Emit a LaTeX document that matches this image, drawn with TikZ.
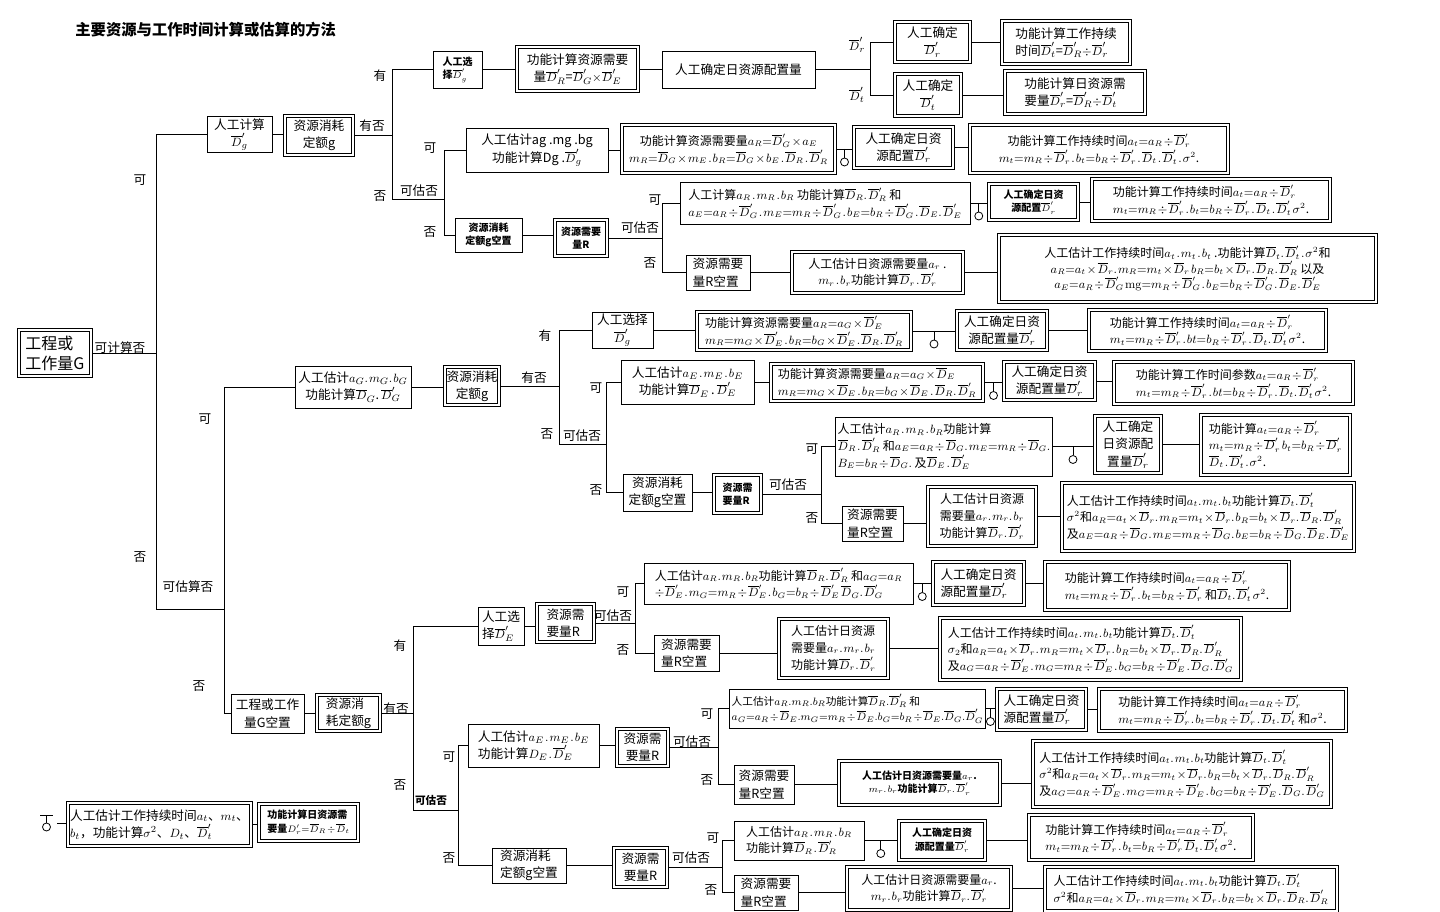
\documentclass[tikz,border=0pt]{standalone}
\usepackage{fontspec}
\newfontfamily\cjk{Noto Sans CJK SC}
\newcommand{\Db}[1]{\ensuremath{\overline{D}_{#1}}}
\newcommand{\Dp}[1]{\ensuremath{\overline{D}_{#1}'}}
\thinmuskip=1.5mu
\medmuskip=1.5mu
\thickmuskip=2mu

\begin{document}
\begin{tikzpicture}[x=0.75pt,y=-0.75pt,line width=0.6pt,
  box/.style={draw,inner sep=1.5pt,align=center,font=\cjk\fontsize{9.5}{13}\selectfont},
  dbox/.style={box,double,double distance=1.6pt,outer sep=1.4pt},
  fml/.style={font=\cjk\fontsize{9}{12.5}\selectfont},
  bsm/.style={font=\cjk\bfseries\fontsize{7.5}{10}\selectfont},
  lab/.style={inner sep=0pt,font=\cjk\fontsize{9.5}{11}\selectfont},
  sz/.style 2 args={minimum width=#1*0.75pt,minimum height=#2*0.75pt},
  lolli/.pic={\draw (0,0) -- (0,9); \draw (0,13) circle[radius=3pt];}]
  \useasboundingbox (0,0) rectangle (1440,912);

  \node[anchor=west,inner sep=0pt,font=\cjk\bfseries\fontsize{11.5}{13}\selectfont] (title) at (75,30) {主要资源与工作时间计算或估算的方法};

  % root and the two trunks
  \node[dbox,sz={72}{46},align=left,font=\cjk\fontsize{12}{15}\selectfont] (root) at (55,353) {工程或\\工作量G};
  \coordinate (j1) at (156,0);
  \coordinate (t2) at (224,609);

  % can be calculated
  \node[box,sz={65}{35}] (calc) at (239.5,134.5) {人工计算\\\Dp{g}};
  \node[dbox,sz={68}{39}] (quota1) at (319,135.5) {资源消耗\\定额g};
  \coordinate (j2) at (392,0);
  \coordinate (k2) at (444,199);
  \node[box,bsm,sz={49}{37},align=left] (sel1) at (457.5,69.5) {人工选\\择\Dp{g}};
  \node[dbox,sz={121}{44}] (need1) at (577.5,69) {功能计算资源需要\\量\Dp{R}=\Dp{G}$\times$\Dp{E}};
  \node[box,sz={153}{37}] (cfg1) at (738.5,69.5) {人工确定日资源配置量};
  \coordinate (j3) at (870,0);
  \node[dbox,sz={75}{40}] (detr) at (932.5,42) {人工确定\\\Dp{r}};
  \node[dbox,sz={128}{43},align=left] (dur1) at (1066,42.5) {功能计算工作持续\\时间\Dp{t}=\Dp{R}$\div$\Dp{r}};
  \node[dbox,sz={66}{42}] (dett) at (928,95) {人工确定\\\Dp{t}};
  \node[dbox,sz={140}{43},align=left] (day1) at (1075,92.5) {功能计算日资源需\\要量\Dp{r}=\Dp{R}$\div$\Dp{t}};

  \node[box,sz={142}{44}] (est1) at (537,150) {人工估计ag .mg .bg\\功能计算Dg .\Dp{g}};
  \node[dbox,fml,sz={213}{48}] (need2) at (728.5,149) {功能计算资源需要量$a_R{=}\overline{D}_G'\times a_E$\\$m_R{=}\overline{D}_G\times m_E\,.\,b_R{=}\overline{D}_G\times b_E\,.\,\overline{D}_R\,.\,\overline{D}_R'$};
  \node[dbox,sz={99}{41}] (cfg2) at (903.5,147.5) {人工确定日资\\源配置\Dp{r}};
  \node[dbox,fml,sz={258}{48}] (dur2) at (1099,149) {功能计算工作持续时间$a_t{=}a_R\div\overline{D}_r'$\\$m_t{=}m_R\div\overline{D}_r'\,.\,b_t{=}b_R\div\overline{D}_r'\,.\,\overline{D}_t\,.\,\overline{D}_t'\,.\,\sigma^2$.};

  \node[box,bsm,sz={67}{34}] (quota1e) at (488.5,235) {资源消耗\\定额g空置};
  \node[dbox,bsm,sz={52}{36}] (need3) at (581,238) {资源需要\\量R};
  \coordinate (j5) at (662,0);
  \node[box,fml,sz={290}{42},align=left] (calc3) at (825,203) {人工计算$a_R\,.\,m_R\,.\,b_R$ 功能计算$\overline{D}_R.\,\overline{D}_R'$ 和\\$a_E{=}a_R\div\overline{D}_G'\,.\,m_E{=}m_R\div\overline{D}_G'\,.\,b_E{=}b_R\div\overline{D}_G'\,.\,\overline{D}_E.\,\overline{D}_E'$};
  \node[dbox,bsm,sz={89}{36}] (cfg3) at (1033.5,202) {人工确定日资\\源配置\Dp{r}};
  \node[dbox,fml,sz={238}{42},align=left] (dur3) at (1211,200) {功能计算工作持续时间$a_t{=}a_R\div\overline{D}_r'$\\$m_t{=}m_R\div\overline{D}_r'\,.\,b_t{=}b_R\div\overline{D}_r'\,.\,\overline{D}_t\,.\,\overline{D}_t'\;\sigma^2$.};
  \node[box,sz={64}{35},align=left] (nr3) at (718,272.5) {资源需要\\量R空置};
  \node[dbox,fml,sz={171}{41}] (day3) at (877.5,272.5) {人工估计日资源需要量$a_r$ .\\$m_r\,.\,b_r$功能计算$\overline{D}_r\,.\,\overline{D}_r'$};
  \node[dbox,sz={377}{67},font=\cjk\fontsize{9}{10.5}\selectfont] (est3) at (1187.5,268.5) {人工估计工作持续时间$a_t\,.\,m_t\,.\,b_t$ .功能计算$\overline{D}_t.\,\overline{D}_t'\,.\,\sigma^2$和\\$a_R{=}a_t\times\overline{D}_r.\,m_R{=}m_t\times\overline{D}_r\;b_R{=}b_t\times\overline{D}_r.\,\overline{D}_R.\,\overline{D}_R'$ 以及\\$a_E{=}a_R\div\overline{D}_G'\;\mathrm{mg}{=}m_R\div\overline{D}_G'\,.\,b_E{=}b_R\div\overline{D}_G'\,.\,\overline{D}_E.\,\overline{D}_E'$};

  % can be estimated
  \node[box,sz={116}{42}] (est4) at (353,387) {人工估计$a_G.\,m_G.\,b_G$\\功能计算\Db{G}.\,\Dp{G}};
  \node[dbox,sz={50}{38}] (quota2) at (472,386) {资源消耗\\定额g};
  \coordinate (j6) at (559,0);
  \coordinate (k6) at (606,444);
  \node[box,sz={61}{36}] (sel2) at (622.5,330) {人工选择\\\Dp{g}};
  \node[dbox,fml,sz={214}{38},align=left] (need5) at (804,331) {功能计算资源需要量$a_R{=}a_G\times\overline{D}_E'$\\$m_R{=}m_G\times\overline{D}_E'\,.\,b_R{=}b_G\times\overline{D}_E'\,.\,\overline{D}_R.\,\overline{D}_R'$};
  \node[dbox,sz={90}{39}] (cfg5) at (1002,330.5) {人工确定日资\\源配置量\Dp{r}};
  \node[dbox,fml,sz={237}{41},align=left] (dur5) at (1207.5,330.5) {功能计算工作持续时间$a_t{=}a_R\div\overline{D}_r'$\\$m_t{=}m_R\div\overline{D}_r'\,.\,bt{=}b_R\div\overline{D}_r'\,.\,\overline{D}_t.\,\overline{D}_t'\;\sigma^2$.};

  \node[box,sz={133}{44}] (est6) at (687.5,382) {人工估计$a_E\,.\,m_E\,.\,b_E$\\功能计算\Db{E}\,.\,\Dp{E}};
  \node[dbox,fml,sz={212}{37},align=left] (need6) at (877,382.5) {功能计算资源需要量$a_R{=}a_G\times\overline{D}_E$\\$m_R{=}m_G\times\overline{D}_E\;.\,b_R{=}b_G\times\overline{D}_E\;.\,\overline{D}_R.\,\overline{D}_R'$};
  \node[dbox,sz={91}{38}] (cfg6) at (1049.5,381) {人工确定日资\\源配置量\Dp{r}};
  \node[dbox,fml,sz={239}{42},align=left] (dur6) at (1233.5,383) {功能计算工作时间参数$a_t{=}a_R\div\overline{D}_r'$\\$m_t{=}m_R\div\overline{D}_r'\,.\,bt{=}b_R\div\overline{D}_r'\,.\,\overline{D}_t.\,\overline{D}_t'\;\sigma^2$.};

  \node[box,sz={69}{37}] (quota6e) at (657.5,492.5) {资源消耗\\定额g空置};
  \node[dbox,bsm,sz={47}{38},align=left] (need7) at (737.5,494) {资源需\\要量R};
  \coordinate (j8) at (821,0);
  \node[box,fml,sz={206}{59},align=left] (calc7) at (944,446.5) {人工估计$a_R\,.\,m_R\,.\,b_R$功能计算\\$\overline{D}_R\,.\,\overline{D}_R'$ 和$a_E{=}a_R\div\overline{D}_G.\,m_E{=}m_R\div\overline{D}_G.$\\$B_E{=}b_R\div\overline{D}_G.$ 及$\overline{D}_E\,.\,\overline{D}_E'$};
  \node[dbox,sz={66}{57}] (cfg7) at (1128,444.5) {人工确定\\日资源配\\置量\Dp{r}};
  \node[dbox,fml,sz={149}{60},align=left] (dur7) at (1275.5,445) {功能计算$a_t{=}a_R\div\overline{D}_r'$\\$m_t{=}m_R\div\overline{D}_r'\;b_t{=}b_R\div\overline{D}_r'$\\$\overline{D}_t\,.\,\overline{D}_t'\,.\,\sigma^2$.};
  \node[box,sz={61}{35},align=left] (nr7) at (872.5,523.5) {资源需要\\量R空置};
  \node[dbox,fml,sz={108}{59}] (day7) at (982,516.5) {人工估计日资源\\需要量$a_r.\,m_r.\,b_r$\\功能计算$\overline{D}_r.\,\overline{D}_r'$};
  \node[dbox,fml,sz={292}{68},align=left] (est7) at (1208,517) {人工估计工作持续时间$a_t.\,m_t.\,b_t$功能计算$\overline{D}_t.\,\overline{D}_t'$\\$\sigma^2$和$a_R{=}a_t\times\overline{D}_r.\,m_R{=}m_t\times\overline{D}_r.\,b_R{=}b_t\times\overline{D}_r.\,\overline{D}_R.\,\overline{D}_R'$\\及$a_E{=}a_R\div\overline{D}_G.\,m_E{=}m_R\div\overline{D}_G.\,b_E{=}b_R\div\overline{D}_G.\,\overline{D}_E.\,\overline{D}_E'$};

  % G left empty
  \node[box,sz={73}{39}] (none) at (267.5,713.5) {工程或工作\\量G空置};
  \node[dbox,sz={63}{36},align=left] (quota3) at (348.5,713) {资源消\\耗定额g};
  \coordinate (j9) at (413,0);
  \coordinate (k9) at (458,810);
  \node[box,sz={46}{38},align=left] (sel3) at (501,626) {人工选\\择\Dp{E}};
  \node[dbox,sz={57}{38},align=left] (need8) at (565.5,623) {资源需\\要量R};
  \coordinate (j10) at (635,0);
  \node[box,fml,sz={269}{41},align=left] (calc8) at (778.5,583.5) {人工估计$a_R.\,m_R.\,b_R$功能计算$\overline{D}_R.\,\overline{D}_R'$ 和$a_G{=}a_R$\\$\div\overline{D}_E'\,.\,m_G{=}m_R\div\overline{D}_E'\,.\,b_G{=}b_R\div\overline{D}_E'\;\overline{D}_G.\,\overline{D}_G'$};
  \node[dbox,sz={91}{43},align=left] (cfg8) at (978.5,583.5) {人工确定日资\\源配置量\Dp{r}};
  \node[dbox,fml,sz={244}{48},align=left] (dur8) at (1167,586) {功能计算工作持续时间$a_t{=}a_R\div\overline{D}_r'$\\$m_t{=}m_R\div\overline{D}_r'\,.\,b_t{=}b_R\div\overline{D}_r'$ 和$\overline{D}_t.\,\overline{D}_t'\;\sigma^2$.};
  \node[box,sz={65}{36},align=left] (nr8) at (686.5,653) {资源需要\\量R空置};
  \node[dbox,fml,sz={109}{59},align=left] (day8) at (833.5,648.5) {人工估计日资源\\需要量$a_r.\,m_r.\,b_r$\\功能计算$\overline{D}_r.\,\overline{D}_r'$};
  \node[dbox,fml,sz={301}{62},align=left] (est8) at (1090.5,649) {人工估计工作持续时间$a_t.\,m_t.\,b_t$功能计算$\overline{D}_t.\,\overline{D}_t'$\\$\sigma_2$和$a_R{=}a_t\times\overline{D}_r.\,m_R{=}m_t\times\overline{D}_r.\,b_R{=}b_t\times\overline{D}_r.\,\overline{D}_R.\,\overline{D}_R'$\\及$a_G{=}a_R\div\overline{D}_E'\,.\,m_G{=}m_R\div\overline{D}_E'\,.\,b_G{=}b_R\div\overline{D}_E'\,.\,\overline{D}_G.\,\overline{D}_G'$};

  \node[box,sz={131}{43},align=left] (est9) at (533.5,745.5) {人工估计$a_E\,.\,m_E\,.\,b_E$\\功能计算$D_E\,.\,\overline{D}_E'$};
  \node[dbox,sz={51}{37}] (need9) at (642.5,747.5) {资源需\\要量R};
  \coordinate (j12) at (718,0);
  \node[box,sz={249}{39},align=left,font=\cjk\fontsize{8}{11.5}\selectfont] (calc9) at (857.5,708.5) {人工估计$a_R.m_R.b_R$功能计算$\overline{D}_R.\overline{D}_R'$ 和\\$a_G{=}a_R\div\overline{D}_E.m_G{=}m_R\div\overline{D}_E.b_G{=}b_R\div\overline{D}_E.\overline{D}_G.\overline{D}_G'$};
  \node[dbox,sz={89}{41},align=left] (cfg9) at (1041.5,709.5) {人工确定日资\\源配置量\Dp{r}};
  \node[dbox,fml,sz={247}{42},align=left] (dur9) at (1222.5,710) {功能计算工作持续时间$a_t{=}a_R\div\overline{D}_r'$\\$m_t{=}m_R\div\overline{D}_r'\,.\,b_t{=}b_R\div\overline{D}_r'\,.\,\overline{D}_t.\,\overline{D}_t'$ 和$\sigma^2$.};
  \node[box,sz={60}{39},align=left] (nr9) at (764,784.5) {资源需要\\量R空置};
  \node[dbox,bsm,sz={161}{44}] (day9) at (919.5,783) {人工估计日资源需要量$a_r$.\\$m_r.\,b_r$功能计算$\overline{D}_r.\,\overline{D}_r'$};
  \node[dbox,fml,sz={298}{66},align=left] (est10) at (1182,774) {人工估计工作持续时间$a_t.\,m_t.\,b_t$功能计算$\overline{D}_t.\,\overline{D}_t'$\\$\sigma^2$和$a_R{=}a_t\times\overline{D}_r.\,m_R{=}m_t\times\overline{D}_r.\,b_R{=}b_t\times\overline{D}_r.\,\overline{D}_R.\,\overline{D}_R'$\\及$a_G{=}a_R\div\overline{D}_E'\,.\,m_G{=}m_R\div\overline{D}_E'\,.\,b_G{=}b_R\div\overline{D}_E'\,.\,\overline{D}_G.\,\overline{D}_G'$};

  \node[box,sz={74}{35},align=left] (quota9e) at (529,865.5) {资源消耗\\定额g空置};
  \node[dbox,sz={53}{39}] (need10) at (640.5,867.5) {资源需\\要量R};
  \coordinate (j13) at (722,0);
  \node[box,fml,sz={130}{39},align=left] (calc10) at (799,840.5) {人工估计$a_R\,.\,m_R\,.\,b_R$\\功能计算$\overline{D}_R\,.\,\overline{D}_R'$};
  \node[dbox,bsm,sz={86}{39}] (cfg10) at (942,840.5) {人工确定日资\\源配置量\Dp{r}};
  \node[dbox,fml,sz={224}{45},align=left] (dur10) at (1141,837.5) {功能计算工作持续时间$a_t{=}a_R\div\overline{D}_r'$\\$m_t{=}m_R\div\overline{D}_r'\,.\,b_t{=}b_R\div\overline{D}_r'\;\overline{D}_t.\,\overline{D}_t'\;\sigma^2$.};
  \node[box,sz={64}{35},align=left] (nr10) at (766,892.5) {资源需要\\量R空置};
  \node[dbox,fml,sz={164}{43}] (day10) at (929,888.5) {人工估计日资源需要量$a_r$.\\$m_r.\,b_r$功能计算$\overline{D}_r.\,\overline{D}_r'$};
  \node[dbox,fml,sz={292}{44},align=left] (est11) at (1191,889) {人工估计工作持续时间$a_t.\,m_t.\,b_t$功能计算$\overline{D}_t.\,\overline{D}_t'$\\$\sigma^2$和$a_R{=}a_t\times\overline{D}_r.\,m_R{=}m_t\times\overline{D}_r.\,b_R{=}b_t\times\overline{D}_r.\,\overline{D}_R.\,\overline{D}_R'$};

  % legend
  \draw (40,815) -- (53,815) (46.5,815) -- (46.5,823);
  \draw (46.5,827) circle[radius=3pt];
  \coordinate (lg) at (57,823);
  \node[dbox,sz={173}{43},align=left] (leg1) at (159.5,824.5) {人工估计工作持续时间$a_t$、$m_t$、\\$b_t$，功能计算$\sigma^2$、$D_t$、$\overline{D}_t'$};
  \node[dbox,bsm,sz={99}{37},align=left] (leg2) at (308.5,822.5) {功能计算日资源需\\要量$D'_r{=}\overline{D}_R\div\overline{D}_t$};

  % branch lines
  \draw (root.east) -- (root.east -| j1);
  \draw (calc.west) -| (t2 -| j1) -- (t2);
  \draw (est4.west) -| (none.west -| t2) -- (none.west);
  \draw (quota1.east) -- (quota1.east -| j2);
  \draw (sel1.west) -| (k2 -| j2) -- (k2);
  \draw (est1.west) -| (quota1e.west -| k2) -- (quota1e.west);
  \draw (cfg1.east) -- (cfg1.east -| j3);
  \draw (detr.west) -| (j3 |- dett.west) -- (dett.west);
  \draw (need3.east) -- (need3.east -| j5);
  \draw (calc3.west) -| (nr3.west -| j5) -- (nr3.west);
  \draw (quota2.east) -- (quota2.east -| j6);
  \draw (sel2.west) -| (k6 -| j6) -- (k6);
  \draw (est6.west) -| (quota6e.west -| k6) -- (quota6e.west);
  \draw (need7.east) -- (need7.east -| j8);
  \draw (calc7.west) -| (nr7.west -| j8) -- (nr7.west);
  \draw (quota3.east) -- (quota3.east -| j9);
  \draw (sel3.west) -| (k9 -| j9) -- (k9);
  \draw (est9.west) -| (quota9e.west -| k9) -- (quota9e.west);
  \draw (need8.east) -- (need8.east -| j10);
  \draw (calc8.west) -| (nr8.west -| j10) -- (nr8.west);
  \draw (need9.east) -- (need9.east -| j12);
  \draw (calc9.west) -| (nr9.west -| j12) -- (nr9.west);
  \draw (need10.east) -- (need10.east -| j13);
  \draw (calc10.west) -| (nr10.west -| j13) -- (nr10.west);

  % chains
  \foreach \a/\b in {calc/quota1,sel1/need1,need1/cfg1,detr/dur1,dett/day1,est1/need2,cfg2/dur2,
      quota1e/need3,cfg3/dur3,nr3/day3,day3/est3,est4/quota2,sel2/need5,cfg5/dur5,est6/need6,
      cfg6/dur6,quota6e/need7,cfg7/dur7,nr7/day7,day7/est7,none/quota3,sel3/need8,cfg8/dur8,
      nr8/day8,day8/est8,est9/need9,cfg9/dur9,nr9/day9,day9/est10,quota9e/need10,cfg10/dur10,
      nr10/day10,day10/est11,leg1/leg2}
    \draw (\a.east) -- (\a.east -| \b.west);
  \draw (lg) -- (lg -| leg1.west);
  \foreach \a/\b in {need2/cfg2,calc3/cfg3,need5/cfg5,need6/cfg6,calc7/cfg7,calc8/cfg8,calc9/cfg9,calc10/cfg10} {
    \draw (\a.east) -- coordinate[midway] (m) (\a.east -| \b.west);
    \pic at (m) {lolli};
  }

  % branch labels
  \node[lab] (l0) at (120,348) {可计算否};
  \foreach \x/\y/\t [count=\i] in {140/180/可,140/557/否,188/587/可估算否,205/419/可,199/686/否,
      372/126/有否,380/76/有,380/196/否,419/191/可估否,430/148/可,430/232/否,
      640/228/可估否,655/200/可,650/263/否,
      534/378/有否,545/336/有,547/434/否,582/436/可估否,596/388/可,596/490/否,
      788/485/可估否,812/449/可,812/518/否,
      396/709/有否,400/646/有,400/785/否,613/616/可估否,623/592/可,623/650/否,
      449/757/可,449/858/否,692/742/可估否,707/714/可,707/780/否,
      691/858/可估否,713/838/可,711/890/否}
    \node[lab] (lb\i) at (\x,\y) {\t};
  \node[lab] (ldr) at (857,45) {\Dp{r}};
  \node[lab] (ldt) at (857,95) {\Dp{t}};
  \node[lab,font=\cjk\bfseries\fontsize{8}{10}\selectfont] (lbold) at (431,800) {可估否};
\end{tikzpicture}
\end{document}
